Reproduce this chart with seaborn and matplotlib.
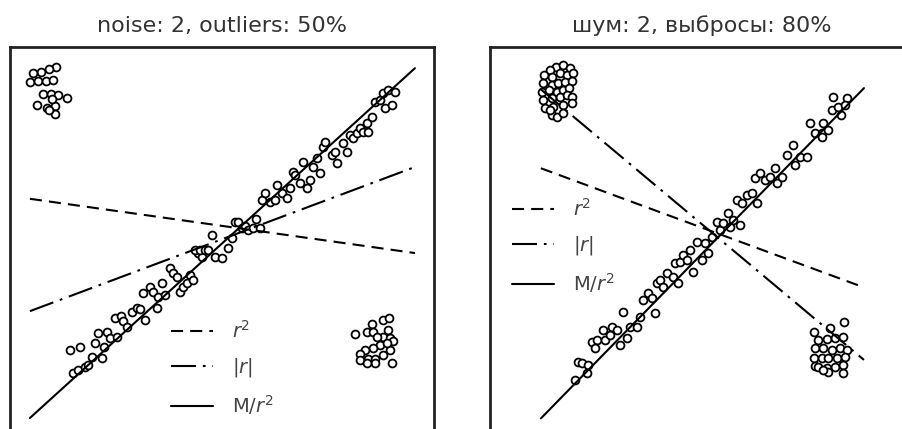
import numpy as np
import matplotlib
matplotlib.use("Agg")
import matplotlib.pyplot as plt
import seaborn as sns

sns.set_theme(style="white")
plt.rcParams["font.family"] = ["DejaVu Sans"]

# panel 1: noise 2, outliers 50%
left_x = [10.8, 9.2, 7.4, 5.5, 4.8, 6.7, 8.5, 10.1, 7.8, 9.7, 11.3, 13.4, 6.4, 8.7, 10.6, 9.9, 10.5, 9.2,
          88.0, 89.4, 85.3, 81.4, 84.1, 85.7, 89.2, 87.9, 89.6, 90.3, 87.3, 85.5, 83.7, 82.5, 82.5, 84.4,
          86.1, 86.1, 88.0, 89.6, 88.8, 90.2, 84.1, 86.6,
          14.2, 16.5, 14.9, 16.1, 17.7, 18.5, 19.3, 21.6, 20.0, 20.8, 22.8, 22.2, 23.6, 25.2, 24.8, 26.2,
          26.7, 27.5, 28.7, 29.9, 30.7, 31.8, 31.4, 33.0, 33.8, 34.6, 35.8, 35.0, 36.6, 37.7, 38.5, 39.3,
          40.1, 40.9, 41.7, 42.5, 43.2, 44.4, 45.2, 43.6, 44.8, 46.0, 46.8, 47.6, 48.3, 49.9, 51.5, 52.3,
          53.1, 53.8, 54.6, 55.4, 56.2, 57.2, 58.0, 59.0, 59.4, 60.1, 61.3, 62.5, 62.9, 64.1, 65.3, 66.0,
          66.8, 67.2, 68.4, 69.2, 70.0, 70.8, 71.5, 72.3, 73.1, 73.9, 74.3, 75.9, 76.7, 77.1, 78.6, 79.4,
          80.2, 81.0, 81.8, 82.5, 83.3, 84.5, 84.1, 85.3, 86.1, 87.3, 88.0, 88.4, 89.2, 90.0, 90.8]
left_y = [95.4, 94.8, 94.2, 93.9, 91.7, 92.0, 92.0, 92.3, 89.0, 88.8, 88.7, 88.0, 86.4, 85.7, 86.2, 87.7, 84.1, 85.1,
          35.6, 36.0, 34.6, 32.3, 32.9, 32.8, 33.3, 31.6, 31.3, 30.7, 29.7, 28.9, 28.5, 27.7, 26.2, 26.5,
          26.4, 25.4, 27.4, 28.5, 30.3, 25.4, 25.4, 31.7,
          28.5, 29.3, 23.0, 23.8, 24.6, 25.0, 27.0, 26.6, 30.1, 32.5, 32.9, 29.3, 31.3, 31.7, 36.0, 36.6,
          35.4, 34.0, 37.6, 38.4, 38.1, 35.6, 41.9, 43.5, 42.3, 38.4, 44.3, 41.1, 41.5, 47.8, 46.6, 45.8,
          42.3, 43.5, 44.3, 46.2, 45.0, 51.3, 50.5, 52.1, 52.1, 52.1, 52.1, 55.7, 50.5, 50.2, 52.5, 54.9,
          58.8, 58.8, 57.2, 57.8, 56.8, 57.2, 59.4, 57.2, 63.9, 65.5, 63.5, 63.9, 67.5, 65.5, 64.3, 66.7,
          70.6, 69.8, 67.9, 72.9, 66.7, 68.6, 71.8, 73.8, 70.2, 76.5, 77.7, 74.5, 75.3, 72.6, 77.3, 75.3,
          79.2, 78.5, 79.6, 80.8, 80.0, 80.0, 82.0, 83.6, 87.1, 87.5, 89.1, 85.5, 89.9, 86.3, 89.5]

# panel 2: noise 2, outliers 80%
right_x = [15.6, 17.3, 18.9, 14.2, 12.7, 14.6, 16.5, 18.1, 19.6, 12.6, 14.6, 16.1, 17.7, 19.3, 12.2, 13.8,
           15.7, 17.3, 18.7, 12.6, 14.6, 16.5, 18.1, 19.3, 13.0, 14.9, 17.3, 19.3, 14.6, 15.7, 17.3, 14.2,
           83.6, 80.2, 76.3, 77.4, 79.4, 81.4, 83.3, 76.7, 78.6, 80.6, 82.5, 84.1, 76.3, 78.2, 79.8, 81.8,
           83.7, 76.7, 77.4, 79.4, 81.4, 83.3, 79.8, 83.3, 78.6,
           20.0, 20.8, 21.6, 23.2, 22.8, 24.0, 25.2, 24.8, 26.7, 27.1, 28.7, 28.3, 29.9, 30.7, 31.4, 32.2,
           33.0, 34.6, 35.4, 36.2, 37.3, 38.1, 38.9, 39.3, 40.1, 40.9, 41.7, 43.2, 44.4, 43.6, 44.8, 45.6,
           46.4, 47.2, 47.9, 48.8, 49.9, 50.7, 51.5, 52.3, 53.5, 54.2, 55.0, 56.2, 56.6, 57.4, 59.0, 58.2,
           59.4, 60.5, 61.7, 62.9, 62.5, 63.7, 64.9, 66.0, 67.2, 67.6, 68.8, 70.0, 71.5, 71.9, 73.1, 74.7,
           75.5, 76.7, 78.2, 78.6, 78.2, 79.8, 80.6, 82.1, 82.9, 81.0, 84.1, 83.7]
right_y = [95.4, 95.8, 95.0, 94.6, 93.4, 93.0, 93.8, 93.4, 93.8, 91.4, 91.0, 91.4, 91.8, 92.0, 89.5, 89.9,
           89.5, 89.9, 90.3, 87.5, 87.9, 88.3, 88.7, 88.3, 85.5, 85.9, 86.3, 86.7, 84.0, 83.6, 84.4, 85.1,
           35.1, 33.8, 32.9, 30.9, 31.1, 31.3, 31.7, 28.9, 28.9, 28.5, 28.9, 28.5, 26.7, 26.7, 26.7, 26.7,
           27.0, 24.8, 24.6, 24.4, 24.6, 25.0, 23.4, 23.0, 23.8,
           21.5, 25.8, 25.4, 25.0, 23.0, 30.5, 30.9, 28.9, 33.3, 30.9, 34.0, 32.1, 33.3, 29.7, 37.6, 31.3,
           34.0, 34.0, 36.4, 40.3, 41.9, 40.7, 37.2, 44.3, 45.0, 43.5, 46.6, 45.8, 44.3, 49.0, 49.4, 50.9,
           49.8, 52.1, 47.0, 54.1, 49.8, 53.7, 51.3, 55.3, 58.8, 56.8, 58.4, 60.8, 57.6, 59.2, 58.0, 63.9,
           63.1, 65.1, 65.5, 63.1, 69.0, 70.2, 68.6, 69.4, 71.4, 67.9, 69.4, 74.5, 76.9, 72.2, 74.1, 74.1,
           82.0, 79.6, 79.6, 82.0, 78.8, 80.4, 85.1, 85.9, 84.0, 88.3, 87.9, 86.3]

# fitted lines (end points)
left_fit_x = [4.7, 95.5]
left_r2 = [64.2, 51.4]
left_absr = [37.7, 71.7]
left_mr2 = [12.5, 95.0]

right_fit_x = [12.0, 88.2]
right_r2 = [71.4, 43.3]
right_absr = [90.0, 26.2]
right_mr2 = [12.4, 90.3]

labels = ["$r^2$", "$|r|$", "M/$r^2$"]
titles = ["noise: 2, outliers: 50%", "шум: 2, выбросы: 80%"]

fig = plt.figure(figsize=(9.03, 4.29), dpi=100)
ax1 = fig.add_axes([10 / 903, -42 / 429, 424 / 903, 424 / 429])
ax2 = fig.add_axes([490 / 903, -42 / 429, 424 / 903, 424 / 429])

panels = [
    (ax1, left_x, left_y, left_fit_x, left_r2, left_absr, left_mr2, (0.338, 0.397)),
    (ax2, right_x, right_y, right_fit_x, right_r2, right_absr, right_mr2, (0.01, 0.685)),
]

for i, (ax, xs, ys, fx, r2, absr, mr2, leg_pos) in enumerate(panels):
    sns.scatterplot(x=xs, y=ys, ax=ax, s=32, color="white", edgecolor="black",
                    linewidth=1.3, zorder=2)
    ax.plot(fx, r2, color="black", lw=1.5, linestyle=(0, (5.8, 3.4)), label=labels[0], zorder=3)
    ax.plot(fx, absr, color="black", lw=1.5, linestyle=(0, (12, 3.3, 1.3, 3.3)), label=labels[1], zorder=3)
    ax.plot(fx, mr2, color="black", lw=1.5, label=labels[2], zorder=3)
    ax.set_xlim(0, 100)
    ax.set_ylim(0, 100)
    ax.set_xticks([])
    ax.set_yticks([])
    for sp in ax.spines.values():
        sp.set_color("#222222")
        sp.set_linewidth(2)
    ax.set_title(titles[i], fontsize=16, color="#333333", pad=11)
    leg = ax.legend(loc="upper left", bbox_to_anchor=leg_pos, frameon=False, fontsize=14,
                    handlelength=2.15, labelspacing=0.72, handletextpad=1.0)
    for t in leg.get_texts():
        t.set_color("#444444")

fig.savefig("out.png", dpi=100)
